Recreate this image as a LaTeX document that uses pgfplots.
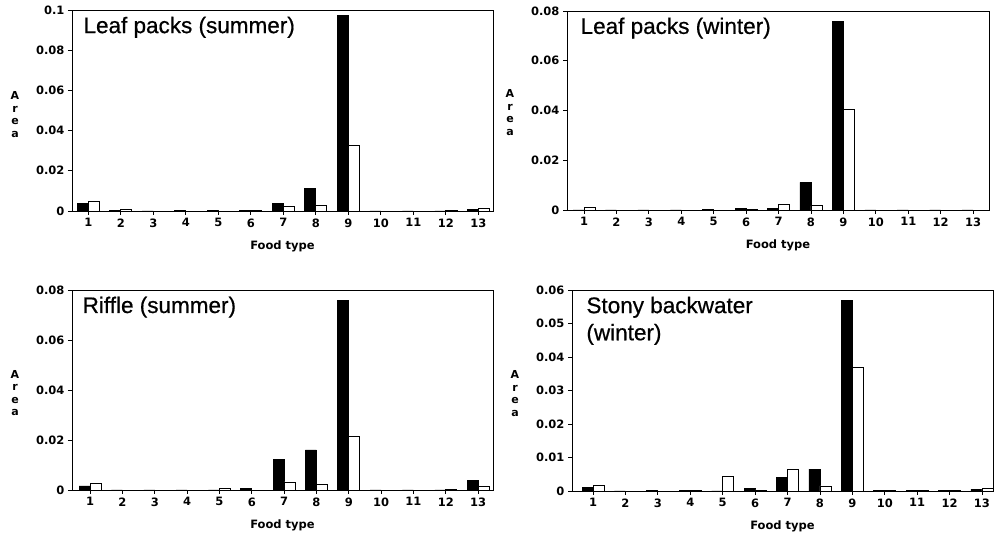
\documentclass[border=0pt]{standalone}
\usepackage{fontspec}
\setmainfont{Liberation Sans}
\newfontfamily\dv{DejaVu Sans}
\newfontfamily\ttlfont[BoldFont=Liberation Sans, BoldFeatures={FakeBold=0.6}]{Liberation Sans}
\usepackage{pgfplots}
\pgfplotsset{compat=1.18}

\tikzset{ttl/.style={anchor=base west, font=\ttlfont\bfseries\fontsize{22.5}{26}\selectfont}}
\pgfplotsset{
  panel/.style={
    scale only axis, anchor=south west,
    ymin=0, axis line style={line width=0.8pt},
    scaled y ticks=false,
    xtick={1,2,3,4,5,6,7,8,9,10,11,12,13},
    xticklabels={1,2,3,4,5,6,7,8,9,10,11,12,13},
    tick align=outside, xtick pos=bottom, ytick pos=left,
    major tick length=4pt, tick style={line width=0.8pt, black},
    tick label style={font=\dv\bfseries\fontsize{11.5}{13}\selectfont},
    xlabel={Food type}, xlabel style={font=\dv\bfseries\fontsize{11.5}{13}\selectfont, yshift=-7pt},
    bar width=0.34, ybar=0pt,
    clip=false,
  },
  blk/.style={fill=black, draw=black, line width=0.8pt, bar shift=-0.17},
  wht/.style={fill=white, draw=black, line width=0.8pt, bar shift=0.17},
}
\newcommand{\arealabel}[1]{\node[font=\dv\bfseries\fontsize{11}{12.5}\selectfont, align=center] at (rel axis cs:0,0.5) [xshift=-57pt,yshift=#1] {A\\r\\e\\a};}

\begin{document}
\begin{tikzpicture}
\path[use as bounding box] (0,0) rectangle (1005pt,533pt);

% Leaf packs (summer)
\begin{axis}[panel, at={(72pt,322pt)}, width=421pt, height=201pt,
  xmin=0.5, xmax=13.45, ymax=0.1,
  ytick={0,0.02,0.04,0.06,0.08,0.1}, yticklabels={0,0.02,0.04,0.06,0.08,0.1}]
\addplot[blk] coordinates {(1,0.0038)(2,0.0003)(3,0)(4,0.0002)(5,0.0002)(6,0.0004)(7,0.0038)(8,0.0113)(9,0.0975)(10,0)(11,0)(12,0)(13,0.0008)};
\addplot[wht] coordinates {(1,0.0050)(2,0.0006)(3,0)(4,0)(5,0)(6,0.0004)(7,0.0022)(8,0.0030)(9,0.0326)(10,0)(11,0)(12,0.0002)(13,0.0012)};
\node[ttl] at (rel axis cs:0.019,0.885) {Leaf packs (summer)};
\arealabel{-4pt}
\end{axis}

% Leaf packs (winter)
\begin{axis}[panel, at={(567pt,323pt)}, width=422pt, height=199pt,
  xmin=0.475, xmax=13.49, ymax=0.08,
  ytick={0,0.02,0.04,0.06,0.08}, yticklabels={0,0.02,0.04,0.06,0.08}]
\addplot[blk] coordinates {(1,0)(2,0)(3,0)(4,0)(5,0.0002)(6,0.0006)(7,0.0007)(8,0.0111)(9,0.0757)(10,0)(11,0)(12,0)(13,0)};
\addplot[wht] coordinates {(1,0.0011)(2,0)(3,0)(4,0)(5,0)(6,0.0002)(7,0.0024)(8,0.0017)(9,0.0405)(10,0)(11,0)(12,0)(13,0)};
\node[ttl] at (rel axis cs:0.024,0.885) {Leaf packs (winter)};
\arealabel{-2pt}
\end{axis}

% Riffle (summer)
\begin{axis}[panel, at={(72pt,43pt)}, width=421pt, height=200pt,
  xmin=0.44, xmax=13.46, ymax=0.08,
  ytick={0,0.02,0.04,0.06,0.08}, yticklabels={0,0.02,0.04,0.06,0.08}]
\addplot[blk] coordinates {(1,0.0016)(2,0)(3,0)(4,0)(5,0)(6,0.0006)(7,0.0122)(8,0.0160)(9,0.0757)(10,0)(11,0)(12,0)(13,0.0038)};
\addplot[wht] coordinates {(1,0.0028)(2,0)(3,0)(4,0)(5,0.0007)(6,0)(7,0.0032)(8,0.0021)(9,0.0216)(10,0)(11,0)(12,0.0002)(13,0.0015)};
\node[ttl] at (rel axis cs:0.017,0.885) {Riffle (summer)};
\arealabel{-3pt}
\end{axis}

% Stony backwater (winter)
\begin{axis}[panel, at={(572pt,42pt)}, width=421pt, height=201pt,
  xmin=0.35, xmax=13.34, ymax=0.06,
  ytick={0,0.01,0.02,0.03,0.04,0.05,0.06}, yticklabels={0,0.01,0.02,0.03,0.04,0.05,0.06}]
\addplot[blk] coordinates {(1,0.0011)(2,0)(3,0.0002)(4,0.0001)(5,0)(6,0.0008)(7,0.0040)(8,0.0065)(9,0.0570)(10,0.0002)(11,0.0002)(12,0.0002)(13,0.0005)};
\addplot[wht] coordinates {(1,0.0016)(2,0)(3,0)(4,0.0002)(5,0.0045)(6,0.0003)(7,0.0065)(8,0.0015)(9,0.0370)(10,0.0002)(11,0.0003)(12,0.0003)(13,0.0008)};
\node[ttl] at (rel axis cs:0.026,0.885) {Stony backwater};
\node[ttl] at (rel axis cs:0.026,0.75) {(winter)};
\arealabel{-3pt}
\end{axis}
\end{tikzpicture}
\end{document}
